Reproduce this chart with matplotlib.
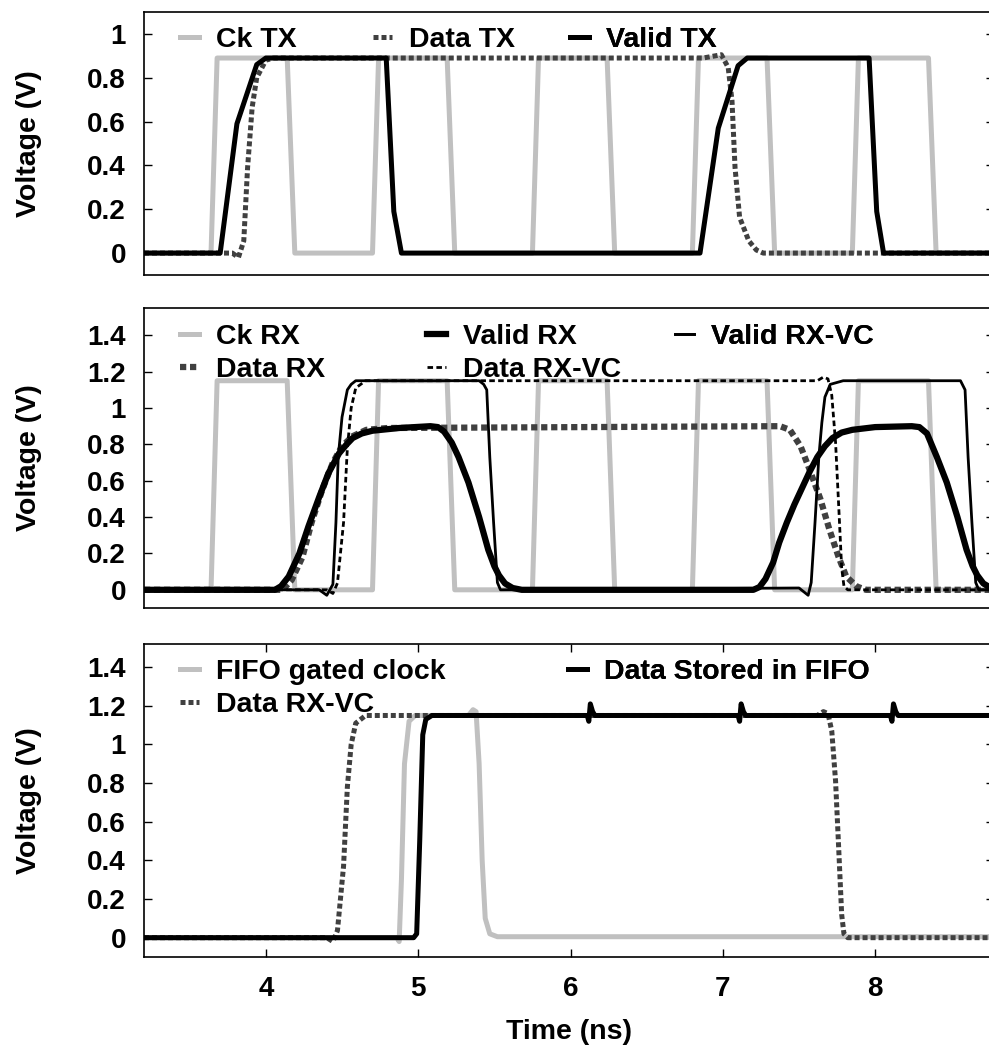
import matplotlib
matplotlib.use('Agg')
from matplotlib import pyplot as plt
from matplotlib.ticker import FormatStrFormatter

plt.rcParams['font.family'] = ['Liberation Sans', 'DejaVu Sans']
plt.rcParams['font.weight'] = 'bold'
plt.rcParams['font.size'] = 20

# ---- transmitter side (ns, V) ----
clk_t = [3.2, 3.64, 3.68, 4.14, 4.19, 4.70, 4.74, 5.19, 5.24, 5.75, 5.79,
         6.24, 6.29, 6.80, 6.84, 7.29, 7.34, 7.85, 7.89, 8.35, 8.40, 8.8]
ck_tx_v = [0, 0, 0.89, 0.89, 0, 0, 0.89, 0.89, 0, 0, 0.89,
           0.89, 0, 0, 0.89, 0.89, 0, 0, 0.89, 0.89, 0, 0]

data_tx_t = [3.2, 3.78, 3.82, 3.855, 3.88, 3.91, 3.94, 4.0, 4.05, 6.87, 6.95,
             6.99, 7.035, 7.06, 7.08, 7.11, 7.17, 7.22, 7.265, 8.8]
data_tx_v = [0, 0, -0.02, 0.056, 0.39, 0.665, 0.80, 0.88, 0.89, 0.89, 0.90,
             0.905, 0.847, 0.695, 0.39, 0.163, 0.056, 0.014, 0, 0]

valid_tx_t = [3.2, 3.70, 3.81, 3.94, 4.00, 4.79, 4.84, 4.89, 6.85, 6.97,
              7.10, 7.16, 7.96, 8.01, 8.055, 8.8]
valid_tx_v = [0, 0, 0.59, 0.86, 0.89, 0.89, 0.19, 0, 0, 0.57,
              0.855, 0.89, 0.89, 0.19, 0, 0]

# ---- receiver side ----
ck_rx_v = [0, 0, 1.15, 1.15, 0, 0, 1.15, 1.15, 0, 0, 1.15,
           1.15, 0, 0, 1.15, 1.15, 0, 0, 1.15, 1.15, 0, 0]

valid_rx_t = [3.2, 4.06, 4.10, 4.15, 4.22, 4.28, 4.35, 4.41, 4.48, 4.53, 4.57,
              4.63, 4.70, 4.875, 5.08, 5.13, 5.17, 5.22, 5.265, 5.33, 5.40,
              5.46, 5.50, 5.53, 5.57, 5.62, 5.68,
              7.20, 7.24, 7.28, 7.33, 7.37, 7.42, 7.47, 7.52, 7.57, 7.62,
              7.67, 7.72, 7.78, 7.85, 8.00, 8.24, 8.29, 8.34, 8.405, 8.47,
              8.54, 8.60, 8.64, 8.67, 8.71, 8.75, 8.8]
valid_rx_v = [0, 0, 0.02, 0.073, 0.2, 0.35, 0.51, 0.64, 0.75, 0.80, 0.835,
              0.86, 0.875, 0.89, 0.90, 0.895, 0.87, 0.81, 0.73, 0.59, 0.40,
              0.22, 0.13, 0.08, 0.035, 0.01, 0,
              0, 0.015, 0.06, 0.15, 0.26, 0.37, 0.47, 0.56, 0.65, 0.73,
              0.79, 0.835, 0.865, 0.88, 0.895, 0.90, 0.895, 0.86, 0.73, 0.59,
              0.40, 0.22, 0.13, 0.08, 0.035, 0.015, 0]

valid_vc_t = [3.2, 4.35, 4.40, 4.44, 4.46, 4.475, 4.50, 4.535, 4.56, 4.59, 4.65,
              5.40, 5.43, 5.45, 5.47, 5.495, 5.52, 5.54, 7.50, 7.56, 7.58,
              7.605, 7.63, 7.65, 7.67, 7.705, 7.79, 8.56, 8.59, 8.61, 8.635,
              8.66, 8.68, 8.8]
valid_vc_v = [0, 0, -0.03, 0.03, 0.37, 0.73, 0.95, 1.10, 1.13, 1.15, 1.15,
              1.15, 1.13, 1.10, 0.73, 0.37, 0.04, 0, 0.01, -0.03, 0.04,
              0.37, 0.73, 0.92, 1.06, 1.13, 1.15, 1.15, 1.10, 0.73, 0.37,
              0.04, 0, 0]

data_rx_t = [3.2, 4.11, 4.17, 4.24, 4.30, 4.37, 4.44, 4.50, 4.57, 4.66, 4.80,
             7.375, 7.44, 7.51, 7.57, 7.64, 7.70, 7.76, 7.81, 7.88, 7.94, 8.8]
data_rx_v = [0, 0, 0.055, 0.18, 0.37, 0.55, 0.70, 0.79, 0.845, 0.88, 0.89,
             0.90, 0.88, 0.79, 0.66, 0.50, 0.33, 0.18, 0.073, 0.018, 0, 0]

data_vc_t = [3.2, 4.40, 4.44, 4.47, 4.51, 4.535, 4.56, 4.59, 4.655, 7.62,
             7.66, 7.69, 7.715, 7.74, 7.76, 7.78, 7.795, 7.82, 8.8]
data_vc_v = [0, 0, -0.02, 0.037, 0.37, 0.78, 1.0, 1.11, 1.15, 1.15,
             1.17, 1.16, 1.07, 0.81, 0.47, 0.12, 0.02, 0, 0]

# ---- FIFO ----
fifo_clk_t = [3.2, 4.86, 4.875, 4.89, 4.91, 4.94, 4.98, 5.33, 5.36, 5.38,
              5.40, 5.42, 5.44, 5.47, 5.52, 8.8]
fifo_clk_v = [0, 0, -0.02, 0.3, 0.9, 1.12, 1.15, 1.15, 1.18, 1.17,
              0.9, 0.4, 0.1, 0.02, 0.005, 0.005]

stored_t = [3.2, 4.97, 4.99, 5.01, 5.03, 5.05, 5.09,
            6.11, 6.12, 6.13, 6.145, 6.16,
            7.10, 7.11, 7.12, 7.135, 7.15,
            8.10, 8.11, 8.12, 8.135, 8.15, 8.8]
stored_v = [0, 0, 0.02, 0.5, 1.05, 1.13, 1.15,
            1.15, 1.12, 1.21, 1.17, 1.15,
            1.15, 1.12, 1.21, 1.17, 1.15,
            1.15, 1.12, 1.21, 1.17, 1.15, 1.15]

GREY = '#c0c0c0'
DARK = '#404040'
W, H = 989, 1049
FS = 20.5

fig = plt.figure(figsize=(W / 100, H / 100), dpi=100)


def panel(top, bottom, left=144, right=994):
    ax = fig.add_axes([left / W, 1 - bottom / H, (right - left) / W, (bottom - top) / H])
    ax.size_px = (right - left, bottom - top)
    return ax


def key(ax, handles, dx, dy=15):
    w, h = ax.size_px
    leg = ax.legend(handles=handles, loc='upper left',
                    bbox_to_anchor=(dx / w, 1 - dy / h), frameon=False,
                    borderpad=0, borderaxespad=0, handlelength=0.65,
                    handletextpad=0.6, labelspacing=0.24,
                    prop={'size': FS, 'weight': 'bold'})
    ax.add_artist(leg)


def style(ax, ylim, yticks, xticks=False):
    ax.set_xlim(3.2, 8.78)
    ax.set_ylim(*ylim)
    ax.set_yticks(yticks)
    ax.yaxis.set_major_formatter(FormatStrFormatter('%g'))
    ax.tick_params(axis='y', direction='in', length=5.5, width=1, left=True,
                   right=True, pad=13)
    if xticks:
        ax.set_xticks([4, 5, 6, 7, 8])
        ax.tick_params(axis='x', direction='in', length=5.5, width=1,
                       top=True, bottom=True, pad=14)
    else:
        ax.tick_params(axis='x', bottom=False, labelbottom=False)
    for s in ax.spines.values():
        s.set_linewidth(1.2)
    ax.set_ylabel('Voltage (V)', fontsize=FS, fontweight='bold')
    ax.yaxis.set_label_coords(-0.12, 0.5)


dots = dict(dashes=(1, 0.6), dash_capstyle='butt')

# transmitter
ax1 = panel(12, 275)
l1, = ax1.plot(clk_t, ck_tx_v, color=GREY, lw=3.6, label='Ck TX')
l2, = ax1.plot(data_tx_t, data_tx_v, color=DARK, lw=3.6, label='Data TX', **dots)
l3, = ax1.plot(valid_tx_t, valid_tx_v, color='black', lw=3.6, label='Valid TX')
style(ax1, (-0.1, 1.1), [0, 0.2, 0.4, 0.6, 0.8, 1])
key(ax1, [l1], 36)
key(ax1, [l2], 229)
key(ax1, [l3], 426)

# receiver
ax2 = panel(308, 608)
r1, = ax2.plot(clk_t, ck_rx_v, color=GREY, lw=3.6, label='Ck RX')
r4, = ax2.plot(data_rx_t, data_rx_v, color=DARK, lw=4.5, label='Data RX', **dots)
r2, = ax2.plot(valid_rx_t, valid_rx_v, color='black', lw=4.5, label='Valid RX')
r5, = ax2.plot(data_vc_t, data_vc_v, color='black', lw=2, label='Data RX-VC',
               dashes=(2, 1.2), dash_capstyle='butt')
r3, = ax2.plot(valid_vc_t, valid_vc_v, color='black', lw=2, label='Valid RX-VC')
style(ax2, (-0.1, 1.55), [0, 0.2, 0.4, 0.6, 0.8, 1, 1.2, 1.4])
key(ax2, [r1, r4], 36, dy=16)
key(ax2, [r2, r5], 283, dy=16)
key(ax2, [r3], 531, dy=16)

# FIFO
ax3 = panel(644, 957)
f1, = ax3.plot(fifo_clk_t, fifo_clk_v, color=GREY, lw=3.6, label='FIFO gated clock')
f2, = ax3.plot(data_vc_t, data_vc_v, color=DARK, lw=3.6, label='Data RX-VC', **dots)
f3, = ax3.plot(stored_t, stored_v, color='black', lw=3.6, label='Data Stored in FIFO')
style(ax3, (-0.1, 1.52), [0, 0.2, 0.4, 0.6, 0.8, 1, 1.2, 1.4], xticks=True)
ax3.set_xlabel('Time (ns)', fontsize=FS, fontweight='bold', labelpad=12)
key(ax3, [f1, f2], 36, dy=15)
key(ax3, [f3], 424, dy=15)

fig.savefig('out.png', dpi=100)
